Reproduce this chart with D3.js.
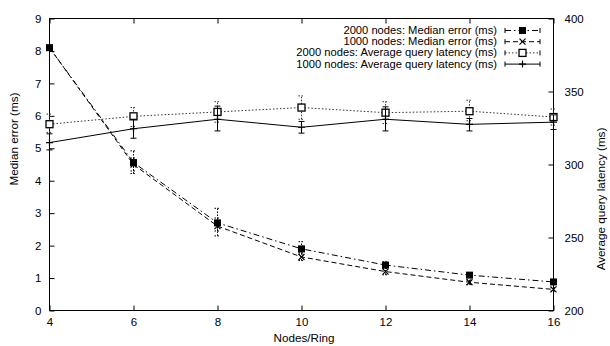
<!DOCTYPE html>
<html>
<head>
<meta charset="utf-8">
<script src="https://cdn.jsdelivr.net/npm/d3@7"></script>
<style>
  html, body { margin: 0; padding: 0; background: #fff; }
  svg text { font-family: "Liberation Sans", Arial, Helvetica, sans-serif; fill: #000; }
</style>
</head>
<body>
<svg id="chart" width="610" height="346"></svg>
<script>
// Nodes per ring
const nodesPerRing = [4, 6, 8, 10, 12, 14, 16];

// Median error (ms), left axis
const median2000 = [8.1, 4.56, 2.7, 1.9, 1.4, 1.09, 0.88];
const median2000Lo = [8.05, 4.22, 2.45, 1.74, 1.3, 1.02, 0.83];
const median2000Hi = [8.15, 4.92, 3.15, 2.12, 1.5, 1.15, 0.93];
const median1000 = [8.1, 4.5, 2.6, 1.65, 1.2, 0.87, 0.65];
const median1000Lo = [8.05, 4.3, 2.3, 1.54, 1.1, 0.8, 0.6];
const median1000Hi = [8.15, 4.7, 2.85, 1.78, 1.3, 0.94, 0.7];

// Average query latency (ms), right axis
const latency2000 = [327.6, 333, 336, 339, 335.5, 336.5, 332.5];
const latency2000Lo = [322, 326, 329, 331, 328, 330, 327];
const latency2000Hi = [334.5, 339, 343, 347, 343, 344, 338];
const latency1000 = [315, 324.5, 331, 325.5, 331, 327.5, 329];
const latency1000Lo = [310, 318, 323, 321.5, 323, 323, 324];
const latency1000Hi = [321, 331, 340, 329.5, 339.5, 331.5, 334];

// Tick values
const xTicks = [4, 6, 8, 10, 12, 14, 16];
const yTicks = [0, 1, 2, 3, 4, 5, 6, 7, 8, 9];
const y2Ticks = [200, 250, 300, 350, 400];

const svg = d3.select("#chart");
const plotL = 49.5, plotR = 553.5, plotT = 18.5, plotB = 310.5;

const x = d3.scaleLinear().domain([4, 16]).range([plotL, plotR]);
const y = d3.scaleLinear().domain([0, 9]).range([plotB, plotT]);
const y2 = d3.scaleLinear().domain([200, 400]).range([plotB, plotT]);

const tickLen = 5;
const tickFont = 11.5;
const labelFont = 11.7;
const legendFont = 11.2;

// Frame
svg.append("rect")
  .attr("x", plotL).attr("y", plotT)
  .attr("width", plotR - plotL).attr("height", plotB - plotT)
  .attr("fill", "none").attr("stroke", "#000").attr("stroke-width", 1);

// Bottom axis (ticks pointing inward)
const xAxis = svg.append("g").attr("transform", `translate(0,${plotB})`)
  .call(d3.axisBottom(x).tickValues(xTicks).tickSizeInner(-tickLen).tickSizeOuter(0).tickPadding(7));
// Top mirrored ticks
const xAxisTop = svg.append("g").attr("transform", `translate(0,${plotT})`)
  .call(d3.axisTop(x).tickValues(xTicks).tickSizeInner(-tickLen).tickSizeOuter(0).tickFormat(""));
// Left axis
const yAxis = svg.append("g").attr("transform", `translate(${plotL},0)`)
  .call(d3.axisLeft(y).tickValues(yTicks).tickSizeInner(-tickLen).tickSizeOuter(0).tickPadding(8));
// Right axis
const y2Axis = svg.append("g").attr("transform", `translate(${plotR},0)`)
  .call(d3.axisRight(y2).tickValues(y2Ticks).tickSizeInner(-tickLen).tickSizeOuter(0).tickPadding(11));

[xAxis, xAxisTop, yAxis, y2Axis].forEach(g => {
  g.select(".domain").remove();
  g.selectAll("line").attr("stroke", "#000");
  g.selectAll("text").attr("font-size", tickFont).attr("font-family", "Liberation Sans, Arial, sans-serif");
});

// Axis titles
svg.append("text").attr("x", 304).attr("y", 342)
  .attr("text-anchor", "middle").attr("font-size", labelFont).text("Nodes/Ring");
svg.append("text")
  .attr("transform", "translate(18,139) rotate(-90)")
  .attr("text-anchor", "middle").attr("font-size", labelFont).text("Median error (ms)");
svg.append("text")
  .attr("transform", "translate(605,199) rotate(-90)")
  .attr("text-anchor", "middle").attr("font-size", labelFont).text("Average query latency (ms)");

// Series definitions
const series = [
  { label: "2000 nodes: Median error (ms)", vals: median2000, lo: median2000Lo, hi: median2000Hi,
    scale: y, dash: "6,3,1.5,3", color: "#000", marker: "filledSquare" },
  { label: "1000 nodes: Median error (ms)", vals: median1000, lo: median1000Lo, hi: median1000Hi,
    scale: y, dash: "5,3", color: "#000", marker: "cross" },
  { label: "2000 nodes: Average query latency (ms)", vals: latency2000, lo: latency2000Lo, hi: latency2000Hi,
    scale: y2, dash: "1.5,2", color: "#333", marker: "openSquare" },
  { label: "1000 nodes: Average query latency (ms)", vals: latency1000, lo: latency1000Lo, hi: latency1000Hi,
    scale: y2, dash: null, color: "#000", marker: "plus" }
];

function drawMarker(g, type, cx, cy) {
  const s = 3.5;
  if (type === "filledSquare") {
    g.append("rect").attr("x", cx - s).attr("y", cy - s).attr("width", 2 * s).attr("height", 2 * s)
      .attr("fill", "#000");
  } else if (type === "openSquare") {
    g.append("rect").attr("x", cx - s).attr("y", cy - s).attr("width", 2 * s).attr("height", 2 * s)
      .attr("fill", "#fff").attr("stroke", "#000").attr("stroke-width", 1.3);
  } else if (type === "cross") {
    const c = 3;
    g.append("path").attr("d", `M${cx - c},${cy - c}L${cx + c},${cy + c}M${cx - c},${cy + c}L${cx + c},${cy - c}`)
      .attr("stroke", "#000").attr("stroke-width", 1.2);
  } else if (type === "plus") {
    const c = 3.5;
    g.append("path").attr("d", `M${cx - c},${cy}L${cx + c},${cy}M${cx},${cy - c}L${cx},${cy + c}`)
      .attr("stroke", "#000").attr("stroke-width", 1.2);
  }
}

const line = d3.line();

series.forEach(s => {
  const g = svg.append("g");
  const pts = nodesPerRing.map((n, i) => [x(n), s.scale(s.vals[i])]);
  // connecting line
  g.append("path").attr("d", line(pts))
    .attr("fill", "none").attr("stroke", s.color).attr("stroke-width", 1)
    .attr("stroke-dasharray", s.dash);
  // error bars
  nodesPerRing.forEach((n, i) => {
    const cx = x(n), y0 = s.scale(s.lo[i]), y1 = s.scale(s.hi[i]);
    const cap = 3;
    g.append("path")
      .attr("d", `M${cx},${y0}L${cx},${y1}M${cx - cap},${y0}L${cx + cap},${y0}M${cx - cap},${y1}L${cx + cap},${y1}`)
      .attr("fill", "none").attr("stroke", s.color).attr("stroke-width", 1)
      .attr("stroke-dasharray", s.dash ? "1.5,1.5" : null);
  });
  // markers
  pts.forEach(p => drawMarker(g, s.marker, p[0], p[1]));
});

// Legend
const legTextX = 497, legX0 = 505, legX1 = 540, legY0 = 30.5, legDy = 11.2;
series.forEach((s, i) => {
  const ly = legY0 + i * legDy;
  const g = svg.append("g");
  g.append("text").attr("x", legTextX).attr("y", ly + 3.5)
    .attr("text-anchor", "end").attr("font-size", legendFont).text(s.label);
  g.append("path").attr("d", `M${legX0},${ly}L${legX1},${ly}`)
    .attr("stroke", s.color).attr("stroke-width", 1).attr("stroke-dasharray", s.dash);
  g.append("path").attr("d", `M${legX0},${ly - 2.5}L${legX0},${ly + 2.5}M${legX1},${ly - 2.5}L${legX1},${ly + 2.5}`)
    .attr("stroke", "#000").attr("stroke-width", 1);
  drawMarker(g, s.marker, (legX0 + legX1) / 2, ly);
});
</script>
</body>
</html>
